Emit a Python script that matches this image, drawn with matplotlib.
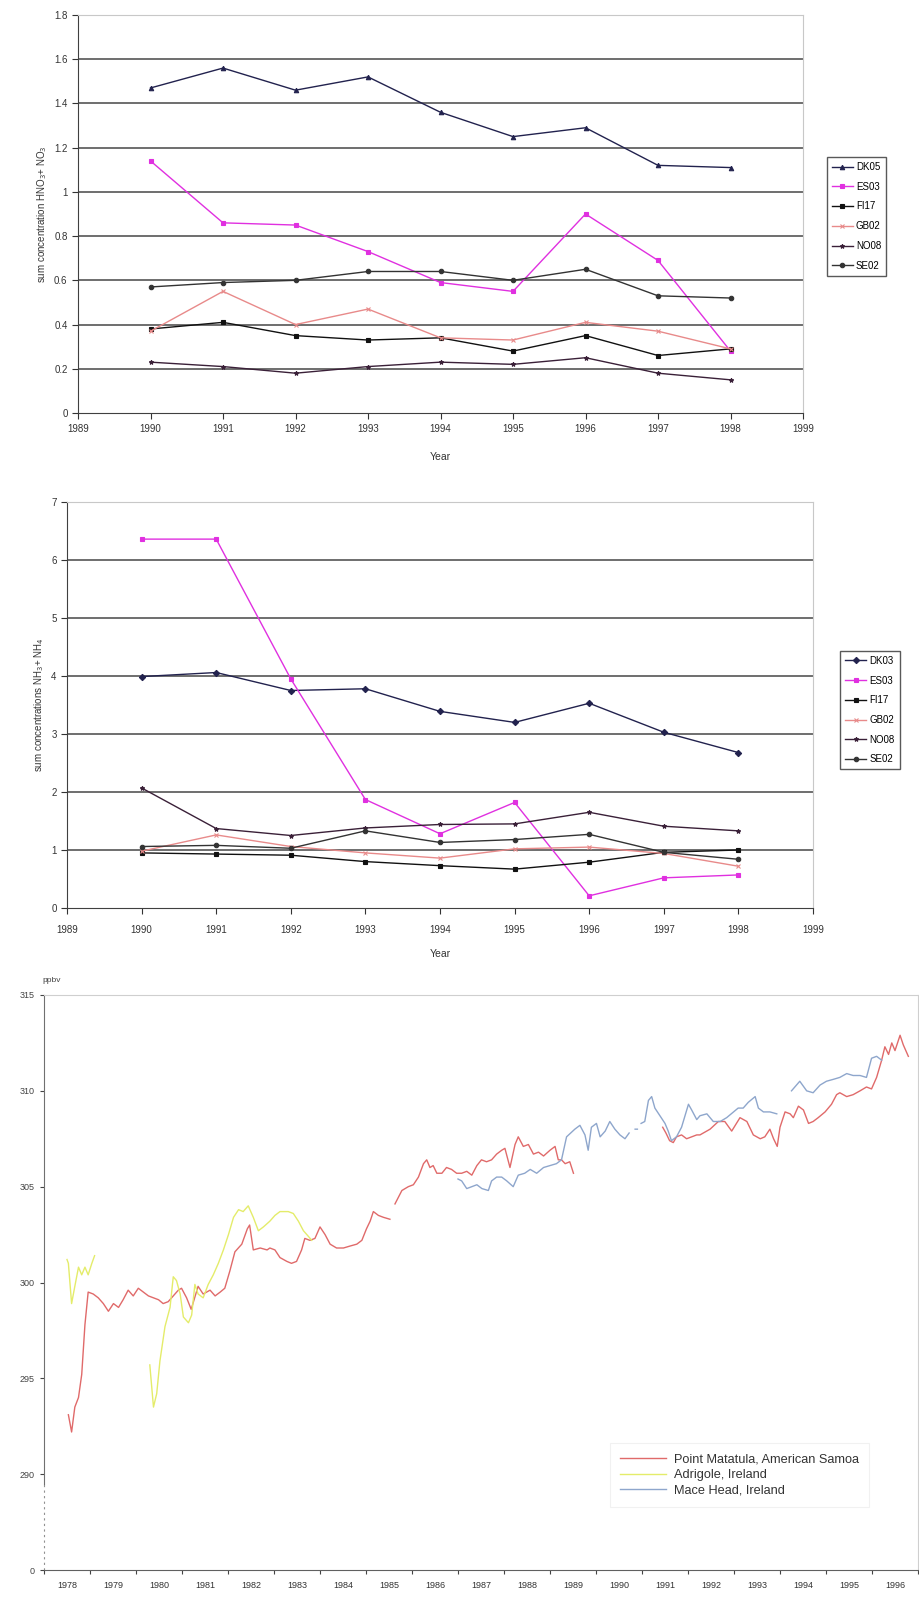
import numpy as np
import matplotlib
matplotlib.use("Agg")
import matplotlib.pyplot as plt
from matplotlib.ticker import FuncFormatter

# --- EMEP station data, 1990-1998 ---
years = [1990, 1991, 1992, 1993, 1994, 1995, 1996, 1997, 1998]

no3_stations = ["DK05", "ES03", "FI17", "GB02", "NO08", "SE02"]
no3_dk05 = [1.47, 1.56, 1.46, 1.52, 1.36, 1.25, 1.29, 1.12, 1.11]
no3_es03 = [1.14, 0.86, 0.85, 0.73, 0.59, 0.55, 0.90, 0.69, 0.28]
no3_fi17 = [0.38, 0.41, 0.35, 0.33, 0.34, 0.28, 0.35, 0.26, 0.29]
no3_gb02 = [0.37, 0.55, 0.40, 0.47, 0.34, 0.33, 0.41, 0.37, 0.29]
no3_no08 = [0.23, 0.21, 0.18, 0.21, 0.23, 0.22, 0.25, 0.18, 0.15]
no3_se02 = [0.57, 0.59, 0.60, 0.64, 0.64, 0.60, 0.65, 0.53, 0.52]

nh4_stations = ["DK03", "ES03", "FI17", "GB02", "NO08", "SE02"]
nh4_dk03 = [3.99, 4.06, 3.75, 3.78, 3.39, 3.20, 3.53, 3.03, 2.68]
nh4_es03 = [6.36, 6.36, 3.95, 1.87, 1.28, 1.82, 0.21, 0.52, 0.57]
nh4_fi17 = [0.95, 0.93, 0.91, 0.80, 0.73, 0.67, 0.79, 0.96, 1.00]
nh4_gb02 = [0.98, 1.26, 1.06, 0.95, 0.86, 1.02, 1.05, 0.94, 0.72]
nh4_no08 = [2.07, 1.37, 1.25, 1.38, 1.44, 1.45, 1.65, 1.41, 1.33]
nh4_se02 = [1.06, 1.08, 1.03, 1.33, 1.13, 1.18, 1.27, 0.96, 0.84]

# --- N2O monthly records (ppbv), nan = gap in record ---
pm_t = [1978.53, 1978.60, 1978.67, 1978.75, 1978.82, 1978.89, 1978.96, 1979.07, 1979.18,
        1979.29, 1979.40, 1979.51, 1979.62, 1979.72, 1979.83, 1979.94, 1980.05, 1980.16,
        1980.27, 1980.38, 1980.49, 1980.59, 1980.70, 1980.81, 1980.92, 1980.99, 1981.10,
        1981.20, 1981.35, 1981.46, 1981.61, 1981.72, 1981.83, 1981.93, 1982.04, 1982.15,
        1982.30, 1982.42, 1982.47, 1982.55, 1982.70, 1982.85, 1982.91, 1983.02, 1983.13,
        1983.28, 1983.38, 1983.49, 1983.60, 1983.67, 1983.78, 1983.89, 1984.00, 1984.11,
        1984.22, 1984.36, 1984.51, 1984.65, 1984.80, 1984.91, 1985.01, 1985.09, 1985.16,
        1985.27, 1985.38, 1985.52, 1985.57, 1985.63, 1985.78, 1985.92, 1986.03, 1986.14,
        1986.25, 1986.32, 1986.39, 1986.46, 1986.54, 1986.65, 1986.75, 1986.86, 1986.97,
        1987.08, 1987.19, 1987.30, 1987.41, 1987.51, 1987.62, 1987.73, 1987.84, 1987.95,
        1988.02, 1988.13, 1988.24, 1988.31, 1988.42, 1988.53, 1988.64, 1988.75, 1988.86,
        1989.00, 1989.11, 1989.18, 1989.25, 1989.33, 1989.43, 1989.51, 1990.50, 1991.45,
        1991.52, 1991.60, 1991.68, 1991.75, 1991.86, 1991.97, 1992.08, 1992.19, 1992.26,
        1992.48, 1992.66, 1992.80, 1992.95, 1993.13, 1993.28, 1993.42, 1993.57, 1993.67,
        1993.78, 1993.86, 1993.94, 1994.00, 1994.11, 1994.22, 1994.29, 1994.40, 1994.51,
        1994.62, 1994.72, 1994.83, 1994.98, 1995.12, 1995.23, 1995.30, 1995.45, 1995.59,
        1995.74, 1995.88, 1995.99, 1996.10, 1996.21, 1996.28, 1996.36, 1996.43, 1996.50,
        1996.61, 1996.68, 1996.79]
pm_v = [293.1, 292.2, 293.5, 294.0, 295.2, 297.8, 299.5, 299.4, 299.2,
        298.9, 298.5, 298.9, 298.7, 299.1, 299.6, 299.3, 299.7, 299.5,
        299.3, 299.2, 299.1, 298.9, 299.0, 299.3, 299.6, 299.7, 299.2,
        298.6, 299.8, 299.4, 299.6, 299.3, 299.5, 299.7, 300.6, 301.6,
        302.0, 302.8, 303.0, 301.7, 301.8, 301.7, 301.8, 301.7, 301.3,
        301.1, 301.0, 301.1, 301.7, 302.3, 302.2, 302.3, 302.9, 302.5,
        302.0, 301.8, 301.8, 301.9, 302.0, 302.2, 302.8, 303.2, 303.7,
        303.5, 303.4, 303.3, np.nan, 304.1, 304.8, 305.0, 305.1, 305.5,
        306.2, 306.4, 306.0, 306.1, 305.7, 305.7, 306.0, 305.9, 305.7,
        305.7, 305.8, 305.6, 306.1, 306.4, 306.3, 306.4, 306.7, 306.9,
        307.0, 306.0, 307.2, 307.6, 307.1, 307.2, 306.7, 306.8, 306.6,
        306.9, 307.1, 306.4, 306.4, 306.2, 306.3, 305.7, np.nan, 308.1,
        307.8, 307.4, 307.3, 307.6, 307.7, 307.5, 307.6, 307.7, 307.7,
        308.0, 308.4, 308.4, 307.9, 308.6, 308.4, 307.7, 307.5, 307.6,
        308.0, 307.5, 307.1, 308.1, 308.9, 308.8, 308.6, 309.2, 309.0,
        308.3, 308.4, 308.6, 308.9, 309.3, 309.8, 309.9, 309.7, 309.8,
        310.0, 310.2, 310.1, 310.7, 311.6, 312.3, 311.9, 312.5, 312.1,
        312.9, 312.4, 311.8]

ad_t = [1978.50, 1978.53, 1978.60, 1978.67, 1978.75, 1978.82, 1978.89, 1978.96, 1979.04,
        1979.10, 1979.70, 1980.30, 1980.38, 1980.45, 1980.52, 1980.63, 1980.74, 1980.81,
        1980.88, 1980.96, 1981.03, 1981.14, 1981.21, 1981.28, 1981.35, 1981.46, 1981.57,
        1981.68, 1981.79, 1981.90, 1982.01, 1982.12, 1982.23, 1982.33, 1982.44, 1982.55,
        1982.66, 1982.77, 1982.91, 1983.02, 1983.13, 1983.20, 1983.31, 1983.42, 1983.53,
        1983.64, 1983.75, 1983.82]
ad_v = [301.2, 301.0, 298.9, 299.8, 300.8, 300.4, 300.8, 300.4, 301.0,
        301.4, np.nan, 295.7, 293.5, 294.2, 295.9, 297.7, 298.7, 300.3,
        300.1, 299.4, 298.2, 297.9, 298.3, 299.9, 299.4, 299.2, 299.9,
        300.4, 301.0, 301.7, 302.5, 303.4, 303.8, 303.7, 304.0, 303.4,
        302.7, 302.9, 303.2, 303.5, 303.7, 303.7, 303.7, 303.6, 303.2,
        302.7, 302.4, 302.2]

mh_t = [1987.00, 1987.08, 1987.19, 1987.30, 1987.41, 1987.52, 1987.66, 1987.73, 1987.84,
        1987.95, 1988.06, 1988.20, 1988.31, 1988.45, 1988.57, 1988.71, 1988.86, 1989.00,
        1989.14, 1989.25, 1989.36, 1989.54, 1989.65, 1989.76, 1989.83, 1989.90, 1990.01,
        1990.09, 1990.20, 1990.30, 1990.41, 1990.52, 1990.63, 1990.72, 1990.78, 1990.85,
        1990.90, 1990.94, 1990.98, 1991.06, 1991.14, 1991.21, 1991.28, 1991.39, 1991.50,
        1991.57, 1991.64, 1991.75, 1991.86, 1992.01, 1992.08, 1992.19, 1992.26, 1992.41,
        1992.55, 1992.70, 1992.84, 1992.99, 1993.09, 1993.20, 1993.31, 1993.46, 1993.53,
        1993.64, 1993.78, 1993.93, 1994.10, 1994.25, 1994.43, 1994.58, 1994.72, 1994.87,
        1995.01, 1995.16, 1995.30, 1995.45, 1995.59, 1995.74, 1995.88, 1995.99, 1996.10,
        1996.21]
mh_v = [305.4, 305.3, 304.9, 305.0, 305.1, 304.9, 304.8, 305.3, 305.5,
        305.5, 305.3, 305.0, 305.6, 305.7, 305.9, 305.7, 306.0, 306.1,
        306.2, 306.4, 307.6, 308.0, 308.2, 307.7, 306.9, 308.1, 308.3,
        307.6, 307.9, 308.4, 308.0, 307.7, 307.5, 307.8, np.nan, 308.0,
        308.0, np.nan, 308.3, 308.4, 309.5, 309.7, 309.1, 308.7, 308.3,
        307.9, 307.4, 307.6, 308.1, 309.3, 309.0, 308.5, 308.7, 308.8,
        308.4, 308.4, 308.6, 308.9, 309.1, 309.1, 309.4, 309.7, 309.1,
        308.9, 308.9, 308.8, np.nan, 310.0, 310.5, 310.0, 309.9, 310.3,
        310.5, 310.6, 310.7, 310.9, 310.8, 310.8, 310.7, 311.7, 311.8,
        311.6]

station_style = {
    "DK05": ("#22224e", "^"),
    "DK03": ("#22224e", "D"),
    "ES03": ("#e030e0", "s"),
    "FI17": ("#111111", "s"),
    "GB02": ("#e88a8a", "x"),
    "NO08": ("#3a2038", "*"),
    "SE02": ("#333333", "o"),
}

plt.rcParams['font.family'] = ['Liberation Sans', 'DejaVu Sans']
W, H = 920, 1598
fig = plt.figure(figsize=(W / 100, H / 100), dpi=100)


def box(l, t, r, b):
    return [l / W, 1 - b / H, (r - l) / W, (b - t) / H]


def station_chart(rect, names, series, ymax, ystep, ylabel, leg_anchor, xpad, lpad):
    ax = fig.add_axes(rect)
    for name, vals in zip(names, series):
        c, m = station_style[name]
        ax.plot(years, vals, color=c, lw=1.0, marker=m, ms=3.2, mew=0.8, label=name)
    ax.set_xlim(1989, 1999)
    ax.set_ylim(0, ymax)
    ax.set_xticks(np.arange(1989, 2000))
    ax.set_yticks(np.arange(0, ymax + ystep / 2, ystep))
    ax.yaxis.set_major_formatter(FuncFormatter(lambda v, p: "%g" % round(v, 2)))
    for yv in np.arange(ystep, ymax + ystep / 2, ystep):
        ax.axhline(yv, color="#6e6e6e", lw=1.4, zorder=0)
    for s in ["top", "right"]:
        ax.spines[s].set_color("#c8c8c8")
    ax.spines["left"].set_color("#404040")
    ax.spines["bottom"].set_color("#404040")
    ax.tick_params(labelsize=7, length=4, direction="out", colors="#333333")
    ax.tick_params(axis="x", pad=xpad)
    ax.set_xlabel("Year", fontsize=7.5, color="#333333", labelpad=lpad)
    ax.set_ylabel(ylabel, fontsize=7, color="#333333", labelpad=4)
    leg = ax.legend(loc="upper left", bbox_to_anchor=leg_anchor, fontsize=7,
                    frameon=True, fancybox=False, handlelength=2.2,
                    labelspacing=1.0, borderpad=0.5, handletextpad=0.3)
    leg.get_frame().set_edgecolor("#303030")
    leg.get_frame().set_linewidth(1.0)
    return ax


station_chart(box(78, 15, 803, 413), no3_stations,
              [no3_dk05, no3_es03, no3_fi17, no3_gb02, no3_no08, no3_se02],
              1.8, 0.2, "sum concentration HNO$_3$+ NO$_3$", (1.026, 0.655), 4, 13)

station_chart(box(67, 502, 813, 908), nh4_stations,
              [nh4_dk03, nh4_es03, nh4_fi17, nh4_gb02, nh4_no08, nh4_se02],
              7, 1, "sum concentrations NH$_3$+ NH$_4$", (1.030, 0.645), 8, 10)

# --- N2O chart ---
ax3 = fig.add_axes(box(44, 995, 918, 1570))
ax3.plot(pm_t, pm_v, color="#e06a6a", lw=1.0, label="Point Matatula, American Samoa")
ax3.plot(ad_t, ad_v, color="#e4ec6a", lw=1.0, label="Adrigole, Ireland")
ax3.plot(mh_t, mh_v, color="#8ea6cc", lw=1.0, label="Mace Head, Ireland")
ax3.set_xlim(1978, 1997)
ax3.set_ylim(285, 315)
ax3.set_yticks([285, 290, 295, 300, 305, 310, 315])
ax3.set_yticklabels(["0", "290", "295", "300", "305", "310", "315"])
ax3.set_xticks(np.arange(1978, 1998))
ax3.set_xticklabels([])
ax3.set_xticks(np.arange(1978, 1997) + 0.5, minor=True)
ax3.set_xticklabels([str(y) for y in range(1978, 1997)], minor=True)
ax3.tick_params(which="major", labelsize=6.5, length=3, colors="#444444")
ax3.tick_params(which="minor", labelsize=6.5, length=0, pad=8, colors="#333333")
ax3.tick_params(axis="y", labelsize=6.5, length=3, colors="#444444")
ax3.spines["left"].set_bounds(289.5, 315)
ax3.spines["left"].set_color("#707070")
ax3.spines["bottom"].set_color("#606060")
ax3.spines["top"].set_color("#cfcfcf")
ax3.spines["right"].set_color("#cfcfcf")
ax3.plot([0, 0], [285, 289.5], transform=ax3.get_yaxis_transform(),
         color="#909090", lw=0.8, ls=(0, (2, 3)), clip_on=False)
fig.text(42 / W, 1 - 980 / H, "ppbv", fontsize=6, color="#444444", va="center")
leg3 = ax3.legend(loc="upper left", bbox_to_anchor=(0.640, 0.232), fontsize=9.2,
                  frameon=True, fancybox=False, handlelength=3.6,
                  labelspacing=0.3, borderpad=0.8, handletextpad=0.6)
leg3.get_frame().set_edgecolor("#eeeeee")
leg3.get_frame().set_linewidth(0.8)
for t in leg3.get_texts():
    t.set_color("#333333")

fig.savefig("out.png", dpi=100)
